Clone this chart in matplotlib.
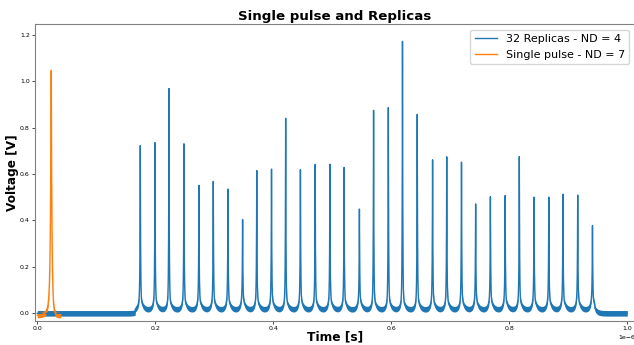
import numpy as np
import matplotlib
matplotlib.use("Agg")
import matplotlib.pyplot as plt

# peak times (in microseconds) and peak voltages
replica_t = [0.1746, 0.1995, 0.2232, 0.2486, 0.2740, 0.2983, 0.3232, 0.3480,
             0.3720, 0.3970, 0.4210, 0.4460, 0.4710, 0.4960, 0.5200, 0.5460,
             0.5700, 0.5950, 0.6190, 0.6440, 0.6700, 0.6940, 0.7190, 0.7430,
             0.7680, 0.7930, 0.8170, 0.8420, 0.8670, 0.8910, 0.9160, 0.9410]
replica_v = [0.722, 0.735, 0.968, 0.730, 0.551, 0.568, 0.535, 0.404,
             0.615, 0.621, 0.840, 0.619, 0.641, 0.642, 0.628, 0.449,
             0.874, 0.886, 1.171, 0.857, 0.661, 0.674, 0.651, 0.471,
             0.502, 0.507, 0.675, 0.500, 0.500, 0.513, 0.509, 0.378]

single_t = [0.0237]
single_v = [1.039]

# baseline levels (V) and where they hold (us)
replica_window = [0.166, 0.945]
replica_floor = 0.014
single_floor = -0.008
noise_half = 0.012

labels = ["32 Replicas - ND = 4", "Single pulse - ND = 7"]


def pulse(t, tp, h, tau_r, tau_f, sh, tau_sh, tl, tau_tl):
    # spike plus a slow shoulder before it and a slow tail after it
    d = t - tp
    y = np.where(d < 0, h * np.exp(d / tau_r), h * np.exp(-d / tau_f))
    y += np.where(d < 0, sh * np.exp(d / tau_sh), tl * np.exp(-d / tau_tl))
    return y


t_rep = np.arange(0, 1.0001, 0.0001)
v_rep = np.where((t_rep > replica_window[0]) & (t_rep < replica_window[1]), replica_floor, 0.0)
for tp, h in zip(replica_t, replica_v):
    v_rep = v_rep + pulse(t_rep, tp, h - 0.06 - replica_floor, 0.0005, 0.0005,
                          0.08, 0.003, 0.06, 0.004)

t_one = np.arange(0, 0.0398, 0.0001)
v_one = np.full_like(t_one, single_floor)
for tp, h in zip(single_t, single_v):
    v_one = v_one + pulse(t_one, tp, h - 0.05 - single_floor, 0.0012, 0.0012,
                          0.14, 0.004, 0.05, 0.003)

fig = plt.figure(figsize=(6.34, 3.45), dpi=100)
ax = fig.add_axes([0.0547, 0.0696, 0.9468, 0.86])

ax.fill_between(t_rep * 1e-6, v_rep - noise_half, v_rep + noise_half, color="C0", lw=0)
ax.plot(t_rep * 1e-6, v_rep, color="C0", lw=1.0, label=labels[0])
ax.fill_between(t_one * 1e-6, v_one - noise_half, v_one + noise_half, color="C1", lw=0)
ax.plot(t_one * 1e-6, v_one, color="C1", lw=1.0, label=labels[1])

ax.set_xlim(-0.0044e-6, 1.013e-6)
ax.set_ylim(-0.033, 1.245)
ax.set_xticks(np.arange(0, 1.01, 0.2) * 1e-6)
ax.set_yticks(np.arange(0, 1.21, 0.2))
ax.tick_params(labelsize=4.5, length=2, width=0.5, pad=1.5)
ax.xaxis.get_offset_text().set_fontsize(4.5)
for s in ax.spines.values():
    s.set_color("0.5")
    s.set_linewidth(0.8)

ax.set_title("Single pulse and Replicas", fontsize=9.6, fontweight="bold", pad=3)
ax.set_xlabel("Time [s]", fontsize=8.8, fontweight="bold", labelpad=0)
ax.set_ylabel("Voltage [V]", fontsize=8.7, fontweight="bold", labelpad=1)
ax.legend(loc="upper right", fontsize=8)

fig.savefig("out.png", dpi=100)
